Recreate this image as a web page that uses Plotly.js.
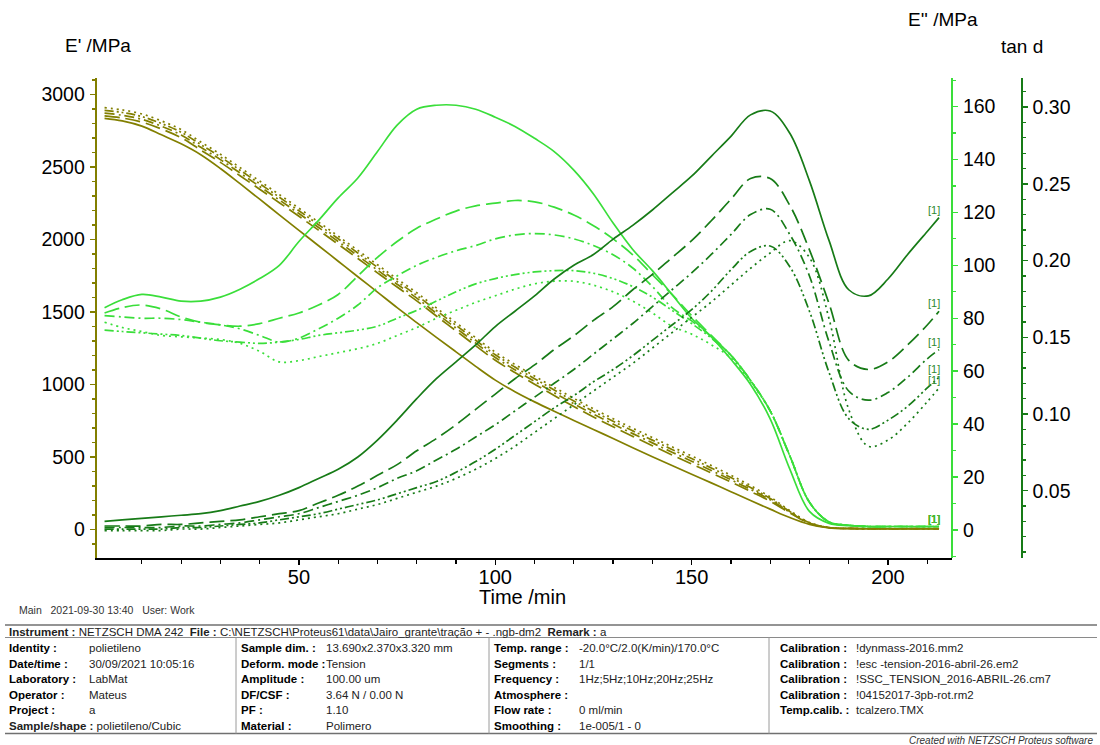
<!DOCTYPE html>
<html>
<head>
<meta charset="utf-8">
<script src="https://cdn.plot.ly/plotly-3.0.1.min.js"></script>
<style>
  html, body { margin: 0; padding: 0; background: #ffffff; }
  #chart { width: 1100px; height: 745px; }
</style>
</head>
<body>
<div id="chart"></div>
<script>
// Time base of the DMA run (min)
const time = [0.5, 5, 10, 15, 20, 25, 30, 35, 40, 45, 50, 55, 60, 65, 70, 75, 80, 85, 90, 95,
  100, 105, 110, 115, 120, 125, 130, 135, 140, 145, 150, 155, 160, 165, 170, 175, 180, 185, 190, 195,
  200, 205, 210, 213];

// Storage modulus E' (MPa)
const storage1Hz = [2836, 2818, 2782, 2722, 2660, 2585, 2490, 2385, 2278, 2170, 2063, 1957, 1850, 1743, 1637, 1530, 1427, 1325, 1225, 1125,
  1030, 950, 880, 815, 752, 690, 627, 564, 502, 441, 381, 321, 260, 199, 140, 82, 35, 10, 5, 4, 4, 4, 4, 4];
const storage5Hz = [2853, 2838, 2810, 2762, 2702, 2617, 2532, 2440, 2347, 2254, 2160, 2064, 1967, 1869, 1770, 1672, 1577, 1472, 1370, 1267,
  1167, 1082, 1002, 924, 848, 776, 708, 642, 578, 514, 452, 390, 327, 262, 195, 114, 42, 12, 7, 6, 5, 5, 5, 5];
const storage10Hz = [2872, 2857, 2829, 2781, 2721, 2636, 2551, 2459, 2366, 2273, 2179, 2083, 1986, 1888, 1789, 1691, 1596, 1491, 1389, 1286,
  1186, 1101, 1021, 943, 867, 795, 727, 661, 597, 533, 471, 407, 343, 276, 205, 119, 44, 13, 7, 6, 5, 5, 5, 5];
const storage20Hz = [2891, 2876, 2848, 2800, 2740, 2655, 2570, 2478, 2385, 2292, 2198, 2102, 2005, 1907, 1808, 1710, 1615, 1510, 1408, 1305,
  1205, 1120, 1040, 962, 886, 814, 746, 680, 616, 552, 489, 424, 358, 289, 214, 124, 46, 13, 7, 6, 5, 5, 5, 5];
const storage25Hz = [2909, 2894, 2866, 2818, 2758, 2673, 2588, 2496, 2403, 2310, 2216, 2120, 2023, 1925, 1826, 1728, 1633, 1528, 1426, 1323,
  1223, 1138, 1058, 980, 904, 832, 764, 698, 634, 570, 507, 441, 374, 303, 224, 130, 48, 14, 7, 6, 5, 5, 5, 5];

// Loss modulus E'' (MPa)
const loss1Hz = [84, 87, 89, 88, 86.5, 86.5, 88, 91, 95, 100, 109, 117, 125.5, 133, 143, 153, 159, 160.5, 160.5, 159,
  156, 152.5, 148, 143, 136, 127, 116, 106, 98, 89, 80, 73, 64.5, 55, 42, 23, 7, 2.5, 1.6, 1.3, 1.3, 1.3, 1.3, 1.3];
const loss5Hz = [82, 84, 85, 83.5, 80.5, 78.5, 77.5, 77, 78, 80, 82, 85, 89, 96, 103, 109, 114, 117.5, 120.5, 122.5,
  123.5, 124.5, 124, 122, 119, 115, 110, 104, 96.5, 89, 81, 73.5, 66, 56.5, 45, 28, 10.5, 3, 1.8, 1.3, 1.3, 1.3, 1.3, 1.3];
const loss10Hz = [81, 80.5, 80, 80, 79.5, 78.5, 77.5, 76, 73.5, 71, 72.5, 76, 80, 85, 91.5, 96, 100, 103, 105.5, 107.5,
  110, 111.5, 112, 111.5, 110, 107.5, 104, 99, 92, 84, 79, 73, 66, 56.5, 45, 28, 10.5, 3, 1.8, 1.3, 1.3, 1.3, 1.3, 1.3];
const loss20Hz = [75.5, 75, 74.5, 74, 73.5, 72.5, 71.5, 71, 70.5, 71, 72, 73.5, 74.5, 75.5, 77, 80, 83, 86.5, 90, 93,
  95, 96.5, 97.5, 98, 98, 97, 95, 92, 88, 83, 78, 72.5, 66, 56.5, 45, 28, 10.5, 3, 1.8, 1.3, 1.3, 1.3, 1.3, 1.3];
const loss25Hz = [78.5, 76.5, 75, 73.5, 73, 72.5, 72, 70.5, 67.5, 63.5, 64, 65.5, 67, 68.5, 70.5, 73.5, 76.5, 80, 83, 86,
  88.5, 91, 93, 94, 94, 92.5, 90, 86.5, 82, 77, 74, 70, 65, 56, 45, 28, 10.5, 3, 1.8, 1.3, 1.3, 1.3, 1.3, 1.3];

// Loss factor tan d
const tanD1Hz = [0.030, 0.031, 0.032, 0.033, 0.034, 0.035, 0.037, 0.040, 0.043, 0.047, 0.052, 0.058, 0.064, 0.072, 0.083, 0.096, 0.110, 0.123, 0.134, 0.145,
  0.157, 0.167, 0.177, 0.188, 0.197, 0.204, 0.214, 0.223, 0.233, 0.244, 0.255, 0.268, 0.281, 0.295, 0.2975, 0.283, 0.252, 0.213, 0.181, 0.177,
  0.188, 0.204, 0.219, 0.228];
const tanD5Hz = [0.027, 0.027, 0.027, 0.028, 0.028, 0.029, 0.030, 0.031, 0.033, 0.035, 0.037, 0.042, 0.047, 0.053, 0.060, 0.067, 0.076, 0.084, 0.093, 0.103,
  0.113, 0.123, 0.132, 0.142, 0.151, 0.161, 0.170, 0.181, 0.191, 0.202, 0.213, 0.226, 0.240, 0.2535, 0.2535, 0.236, 0.207, 0.172, 0.135, 0.129,
  0.134, 0.145, 0.158, 0.167];
const tanD10Hz = [0.026, 0.026, 0.026, 0.026, 0.027, 0.027, 0.028, 0.029, 0.031, 0.033, 0.035, 0.039, 0.043, 0.047, 0.052, 0.058, 0.063, 0.070, 0.077, 0.085,
  0.093, 0.102, 0.111, 0.120, 0.129, 0.139, 0.149, 0.159, 0.170, 0.181, 0.192, 0.204, 0.217, 0.230, 0.2335, 0.217, 0.190, 0.147, 0.115, 0.109,
  0.114, 0.124, 0.136, 0.142];
const tanD20Hz = [0.025, 0.025, 0.025, 0.025, 0.026, 0.026, 0.027, 0.028, 0.029, 0.031, 0.033, 0.035, 0.038, 0.041, 0.044, 0.048, 0.052, 0.056, 0.062, 0.069,
  0.077, 0.086, 0.095, 0.104, 0.112, 0.121, 0.129, 0.138, 0.148, 0.158, 0.168, 0.180, 0.194, 0.206, 0.2095, 0.196, 0.167, 0.127, 0.097, 0.090,
  0.096, 0.105, 0.117, 0.124];
const tanD25Hz = [0.024, 0.024, 0.024, 0.024, 0.025, 0.025, 0.026, 0.027, 0.028, 0.029, 0.031, 0.033, 0.035, 0.038, 0.041, 0.045, 0.049, 0.053, 0.058, 0.064,
  0.071, 0.079, 0.088, 0.097, 0.106, 0.115, 0.124, 0.133, 0.143, 0.153, 0.163, 0.173, 0.184, 0.195, 0.205, 0.213, 0.202, 0.162, 0.103, 0.079,
  0.083, 0.094, 0.108, 0.117];

// Axis ticks
const xMajorTicks = [50, 100, 150, 200];
const xMinorTicks = [10, 20, 30, 40, 60, 70, 80, 90, 110, 120, 130, 140, 160, 170, 180, 190, 210];
const storageTicks = [0, 500, 1000, 1500, 2000, 2500, 3000];
const lossTicks = [0, 20, 40, 60, 80, 100, 120, 140, 160];
const tanDTicks = [0.05, 0.10, 0.15, 0.20, 0.25, 0.30];

// Measurement info block
const headerLine = "<b>Instrument :</b> NETZSCH DMA 242\u00A0\u00A0<b>File :</b> C:\\NETZSCH\\Proteus61\\data\\Jairo_grante\\tração + - .ngb-dm2\u00A0\u00A0<b>Remark :</b> a";
const infoRows = [
  ["Identity :", "polietileno", "Sample dim. :", "13.690x2.370x3.320 mm", "Temp. range :", "-20.0°C/2.0(K/min)/170.0°C", "Calibration :", "!dynmass-2016.mm2"],
  ["Date/time :", "30/09/2021 10:05:16", "Deform. mode :", "Tension", "Segments :", "1/1", "Calibration :", "!esc -tension-2016-abril-26.em2"],
  ["Laboratory :", "LabMat", "Amplitude :", "100.00 um", "Frequency :", "1Hz;5Hz;10Hz;20Hz;25Hz", "Calibration :", "!SSC_TENSION_2016-ABRIL-26.cm7"],
  ["Operator :", "Mateus", "DF/CSF :", "3.64 N / 0.00 N", "Atmosphere :", "", "Calibration :", "!04152017-3pb-rot.rm2"],
  ["Project :", "a", "PF :", "1.10", "Flow rate :", "0 ml/min", "Temp.calib. :", "tcalzero.TMX"],
  ["Sample/shape :", "polietileno/Cubic", "Material :", "Polimero", "Smoothing :", "1e-005/1 - 0", "", ""]
];

const W = 1100, H = 745;
const px = x => x / W;
const py = y => 1 - y / H;

const OLIVE = '#827f00';
const GREEN = '#3ade3a';
const DARK = '#177b17';
const FONT = 'Liberation Sans, Arial, sans-serif';

const dashes = ['solid', '15px,6px', '10px,4px,2px,4px', '9px,3px,2px,3px,2px,3px', '2px,4px'];
const freqs = ['1Hz', '5Hz', '10Hz', '20Hz', '25Hz'];

const families = [
  { name: "E'", sets: [storage1Hz, storage5Hz, storage10Hz, storage20Hz, storage25Hz], axis: 'y', color: OLIVE },
  { name: "E''", sets: [loss1Hz, loss5Hz, loss10Hz, loss20Hz, loss25Hz], axis: 'y2', color: GREEN },
  { name: 'tan d', sets: [tanD1Hz, tanD5Hz, tanD10Hz, tanD20Hz, tanD25Hz], axis: 'y3', color: DARK }
];

const traces = [];
families.forEach(f => f.sets.forEach((vals, i) => {
  traces.push({
    type: 'scatter', mode: 'lines', x: time, y: vals, yaxis: f.axis,
    name: f.name + ' ' + freqs[i],
    line: { color: f.color, width: 1.7, dash: dashes[i], shape: 'spline', smoothing: 1 },
    hoverinfo: 'skip', showlegend: false
  });
}));

const annotations = [];
function note(text, x, y, opts) {
  annotations.push(Object.assign({
    text: text, x: px(x), y: py(y), xref: 'paper', yref: 'paper',
    showarrow: false, xanchor: 'left', yanchor: 'middle',
    font: { family: FONT, size: 11.5, color: '#000' }
  }, opts || {}));
}

// Axis titles
note("E' /MPa", 97.5, 45, { xanchor: 'center', font: { family: FONT, size: 19, color: '#000' } });
note("E'' /MPa", 943, 20, { xanchor: 'center', font: { family: FONT, size: 19, color: '#000' } });
note('tan d', 1022, 46, { xanchor: 'center', font: { family: FONT, size: 19, color: '#000' } });
note('Time /min', 522, 597, { xanchor: 'center', font: { family: FONT, size: 20, color: '#000' } });

// Segment markers at the end of each curve
[[families[1], '#48b832'], [families[2], '#2f8a2f']].forEach(([f, c]) => {
  f.sets.forEach(vals => {
    annotations.push({
      text: '[1]', x: time[time.length - 1], y: vals[vals.length - 1], xref: 'x', yref: f.axis,
      showarrow: false, xanchor: 'right', yanchor: 'bottom', xshift: 3, yshift: 0,
      font: { family: FONT, size: 11, color: c }
    });
  });
});

// Footer: run line, parameter table, credit
note('Main\u00A0\u00A0\u00A02021-09-30 13:40\u00A0\u00A0\u00A0User: Work', 17, 610, { font: { family: FONT, size: 10.5, color: '#333' } });
note(headerLine, 7, 632, { font: { family: FONT, size: 11.5, color: '#222' } });

const labelX = [7, 239, 492, 778];
const valueX = [87, 324, 577, 854];
const rowY = [648, 663.5, 679, 694.5, 710, 725.5];
infoRows.forEach((row, r) => {
  for (let c = 0; c < 4; c++) {
    const label = row[2 * c], value = row[2 * c + 1];
    if (!label) continue;
    if (label.length > 13 && c === 0) {
      note('<b>' + label + '</b> ' + value, labelX[c], rowY[r], { font: { family: FONT, size: 11.5, color: '#222' } });
    } else {
      note('<b>' + label + '</b>', labelX[c], rowY[r], { font: { family: FONT, size: 11.5, color: '#000' } });
      if (value) note(value, valueX[c], rowY[r], { font: { family: FONT, size: 11.5, color: '#222' } });
    }
  }
});
note('<i>Created with NETZSCH Proteus software</i>', 1095, 740, { xanchor: 'right', font: { family: FONT, size: 10, color: '#333' } });

const hline = (y, x0, x1, w, c) => ({ type: 'line', xref: 'paper', yref: 'paper', x0: px(x0), x1: px(x1), y0: py(y), y1: py(y), line: { color: c, width: w } });
const vline = (x, y0, y1) => ({ type: 'line', xref: 'paper', yref: 'paper', x0: px(x), x1: px(x), y0: py(y0), y1: py(y1), line: { color: '#9a9a9a', width: 1 } });
const shapes = [
  hline(625, 5, 1097, 1.5, '#707070'),
  hline(637.5, 5, 1097, 1, '#8a8a8a'),
  hline(733.5, 5, 1097, 1.5, '#707070'),
  vline(236, 637.5, 733.5), vline(489, 637.5, 733.5), vline(769, 637.5, 733.5)
];

const tickFont = { family: FONT, size: 19.5, color: '#000' };
const layout = {
  width: W, height: H,
  margin: { l: 0, r: 0, t: 0, b: 0, autoexpand: false },
  paper_bgcolor: '#ffffff', plot_bgcolor: '#ffffff',
  showlegend: false,
  xaxis: {
    domain: [px(96.7), px(952)], range: [-1.5, 216.3], anchor: 'y',
    tickmode: 'array', tickvals: xMajorTicks,
    ticks: 'outside', ticklen: 5, tickwidth: 1.2, tickcolor: '#000',
    showline: true, linecolor: '#000', linewidth: 1.5,
    showgrid: false, zeroline: false, tickfont: { family: FONT, size: 20, color: '#000' },
    ticklabelstandoff: -5,
    minor: { tickmode: 'array', tickvals: xMinorTicks, ticks: 'outside', ticklen: 4, tickwidth: 1.2, tickcolor: '#000', showgrid: false }
  },
  yaxis: {
    domain: [py(558), py(78)], range: [-197, 3114], anchor: 'x',
    tickmode: 'array', tickvals: storageTicks,
    ticks: 'outside', ticklen: 5, tickwidth: 1.5, tickcolor: OLIVE,
    showline: true, linecolor: OLIVE, linewidth: 2,
    showgrid: false, zeroline: false, tickfont: tickFont, ticklabelstandoff: 1,
    minor: { tickmode: 'linear', tick0: 0, dtick: 100, ticks: 'outside', ticklen: 3, tickwidth: 1.2, tickcolor: OLIVE, showgrid: false }
  },
  yaxis2: {
    overlaying: 'y', side: 'right', anchor: 'free', position: px(952),
    range: [-10.6, 170.8],
    tickmode: 'array', tickvals: lossTicks,
    ticks: 'outside', ticklen: 5, tickwidth: 1.5, tickcolor: GREEN,
    showline: true, linecolor: GREEN, linewidth: 2,
    showgrid: false, zeroline: false, tickfont: tickFont, ticklabelstandoff: 1,
    minor: { tickmode: 'linear', tick0: 0, dtick: 10, ticks: 'outside', ticklen: 3, tickwidth: 1.2, tickcolor: GREEN, showgrid: false }
  },
  yaxis3: {
    overlaying: 'y', side: 'right', anchor: 'free', position: px(1021.7),
    range: [0.00613, 0.31904],
    tickmode: 'array', tickvals: tanDTicks, tickformat: '.2f',
    ticks: 'outside', ticklen: 5, tickwidth: 1.5, tickcolor: DARK,
    showline: true, linecolor: DARK, linewidth: 2,
    showgrid: false, zeroline: false, tickfont: tickFont, ticklabelstandoff: 1,
    minor: { tickmode: 'linear', tick0: 0, dtick: 0.01, ticks: 'outside', ticklen: 3, tickwidth: 1.2, tickcolor: DARK, showgrid: false }
  },
  annotations: annotations,
  shapes: shapes
};

Plotly.newPlot('chart', traces, layout, { staticPlot: true, displayModeBar: false });
</script>
</body>
</html>
